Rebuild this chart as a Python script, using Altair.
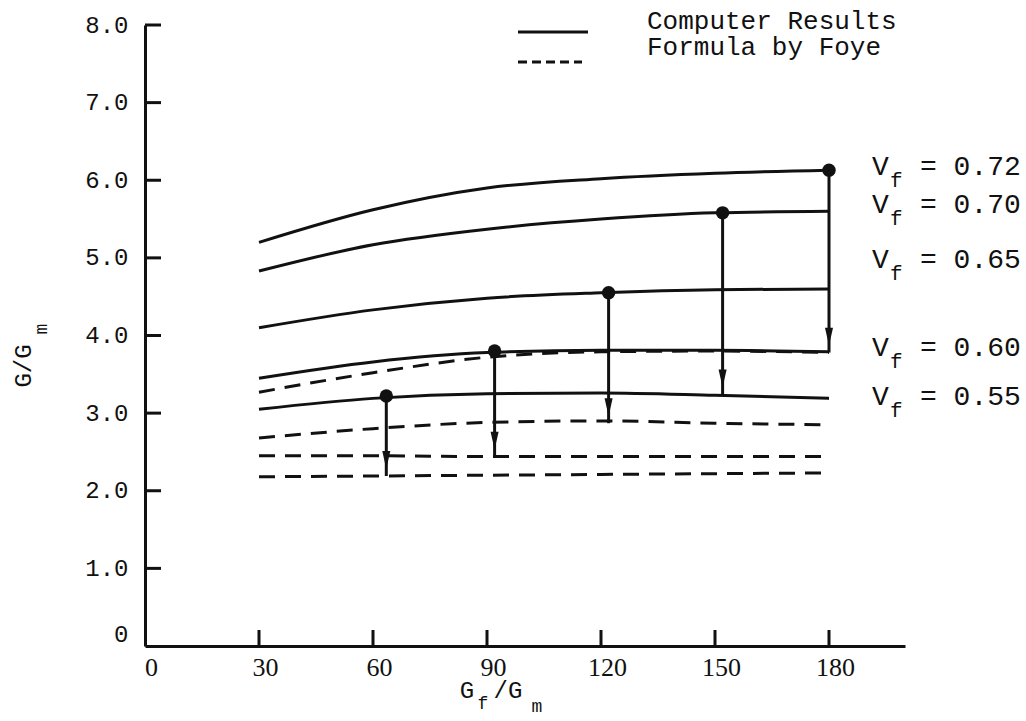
import altair as alt
import pandas as pd

INK = "#111111"

# G_f/G_m sample points for every curve
gf_gm = [30, 60, 90, 120, 150, 180]

# Computer results (solid curves), one list per fibre volume fraction
comp_072 = [5.20, 5.62, 5.90, 6.02, 6.09, 6.13]
comp_070 = [4.83, 5.17, 5.37, 5.50, 5.58, 5.60]
comp_065 = [4.10, 4.33, 4.48, 4.55, 4.59, 4.60]
comp_060 = [3.45, 3.66, 3.78, 3.81, 3.81, 3.79]
comp_055 = [3.05, 3.19, 3.25, 3.26, 3.23, 3.19]

# Formula by Foye (dashed curves)
foye_072 = [3.27, 3.52, 3.72, 3.79, 3.80, 3.78]
foye_065 = [2.68, 2.80, 2.88, 2.90, 2.87, 2.85]
foye_060 = [2.45, 2.45, 2.44, 2.44, 2.44, 2.44]
foye_055 = [2.18, 2.19, 2.20, 2.21, 2.22, 2.23]

# Comparison arrows: from the computed point down to the formula value
arrow_vf = ["0.55", "0.60", "0.65", "0.70", "0.72"]
arrow_x = [63.5, 92, 122, 152, 180]
arrow_top = [3.22, 3.80, 4.55, 5.58, 6.13]
arrow_bottom = [2.19, 2.44, 2.87, 3.24, 3.78]

# Right-hand curve labels
label_vf = ["0.72", "0.70", "0.65", "0.60", "0.55"]
label_y = [6.17, 5.68, 4.97, 3.84, 3.21]

# Axis ticks
x_tick_values = [30, 60, 90, 120, 150, 180]
y_tick_values = [1, 2, 3, 4, 5, 6, 7, 8]
x_label_values = [0, 30, 60, 90, 120, 150, 180]
y_label_values = [0, 1, 2, 3, 4, 5, 6, 7, 8]

W, H = 760, 621
PAD_L, PAD_T = 145, 25

solid_rows = []
for vf, ys in [("0.72", comp_072), ("0.70", comp_070), ("0.65", comp_065),
               ("0.60", comp_060), ("0.55", comp_055)]:
    solid_rows += [{"gf": x, "g": y, "vf": vf} for x, y in zip(gf_gm, ys)]
dashed_rows = []
for vf, ys in [("0.72", foye_072), ("0.65", foye_065),
               ("0.60", foye_060), ("0.55", foye_055)]:
    dashed_rows += [{"gf": x, "g": y, "vf": vf} for x, y in zip(gf_gm, ys)]

solid_df = pd.DataFrame(solid_rows)
dashed_df = pd.DataFrame(dashed_rows)
arrow_df = pd.DataFrame({"vf": arrow_vf, "gf": arrow_x,
                         "top": arrow_top, "bottom": arrow_bottom})
label_df = pd.DataFrame({"vf": label_vf, "ly": label_y,
                         "rest": ["= " + v for v in label_vf]})
xt_df = pd.DataFrame({"gf": x_tick_values})
yt_df = pd.DataFrame({"g": y_tick_values})

x_scale = alt.Scale(domain=[0, 200], nice=False, zero=False)
y_scale = alt.Scale(domain=[0, 8], nice=False, zero=False)

x_axis = alt.Axis(values=x_label_values, title=None, grid=False, ticks=False,
                  tickSize=0, domainColor=INK, domainWidth=3,
                  labelFont="Liberation Serif", labelFontSize=26,
                  labelColor=INK, labelPadding=8, labelOffset=6,
                  labelFlush=False, labelOverlap=False)
y_axis = alt.Axis(values=y_label_values, title=None, grid=False, ticks=False,
                  tickSize=0, domainColor=INK, domainWidth=3,
                  labelFont="Liberation Mono", labelFontSize=24,
                  labelColor=INK, labelPadding=17, labelFlush=False,
                  labelOverlap=False,
                  labelBaseline={"condition": {"test": "datum.value == 0",
                                               "value": "bottom"},
                                 "value": "middle"},
                  labelExpr="datum.value == 0 ? '0' : format(datum.value, '.1f')")

X = alt.X("gf:Q", scale=x_scale, axis=x_axis)
Y = alt.Y("g:Q", scale=y_scale, axis=y_axis)

solid = alt.Chart(solid_df).mark_line(
    interpolate="monotone", strokeWidth=3, color=INK
).encode(x=X, y=Y, detail="vf:N")

dashed = alt.Chart(dashed_df).mark_line(
    interpolate="monotone", strokeWidth=3, color=INK, strokeDash=[16, 10]
).encode(x=X, y=Y, detail="vf:N")

stems = alt.Chart(arrow_df).mark_rule(strokeWidth=3, color=INK).encode(
    x=alt.X("gf:Q", scale=x_scale, axis=x_axis),
    y=alt.Y("top:Q", scale=y_scale, axis=y_axis),
    y2="bottom:Q",
)
dots = alt.Chart(arrow_df).mark_circle(size=180, color=INK, opacity=1).encode(
    x=alt.X("gf:Q", scale=x_scale, axis=x_axis),
    y=alt.Y("top:Q", scale=y_scale, axis=y_axis),
)
heads = alt.Chart(arrow_df).mark_point(
    shape="M-0.45,-1L0.45,-1L0,1Z", size=320, filled=True, color=INK,
    opacity=1, yOffset=-16
).encode(
    x=alt.X("gf:Q", scale=x_scale, axis=x_axis),
    y=alt.Y("bottom:Q", scale=y_scale, axis=y_axis),
)

# inward tick marks on both axes
x_ticks = alt.Chart(xt_df).mark_rule(strokeWidth=3, color=INK).encode(
    x=alt.X("gf:Q", scale=x_scale, axis=x_axis),
    y=alt.value(H), y2=alt.value(H - 16),
)
y_ticks = alt.Chart(yt_df).mark_rule(strokeWidth=3, color=INK).encode(
    y=alt.Y("g:Q", scale=y_scale, axis=y_axis),
    x=alt.value(0), x2=alt.value(16),
)

# curve labels at the right
mono = "Liberation Mono"
lab_v = alt.Chart(label_df).mark_text(
    text="V", font=mono, fontSize=28, color=INK, align="left", baseline="middle"
).encode(y=alt.Y("ly:Q", scale=y_scale, axis=y_axis), x=alt.value(727))
lab_f = alt.Chart(label_df).mark_text(
    text="f", font=mono, fontSize=21, color=INK, align="left",
    baseline="middle", dy=14
).encode(y=alt.Y("ly:Q", scale=y_scale, axis=y_axis), x=alt.value(745))
lab_rest = alt.Chart(label_df).mark_text(
    font=mono, fontSize=28, color=INK, align="left", baseline="middle"
).encode(y=alt.Y("ly:Q", scale=y_scale, axis=y_axis), x=alt.value(775),
         text="rest:N")

# legend
leg_solid = alt.Chart(pd.DataFrame({"k": [0]})).mark_rule(
    strokeWidth=3, color=INK
).encode(x=alt.value(373), x2=alt.value(443), y=alt.value(7))
leg_dash = alt.Chart(pd.DataFrame({"k": [0]})).mark_rule(
    strokeWidth=3, color=INK, strokeDash=[9, 5]
).encode(x=alt.value(373), x2=alt.value(437), y=alt.value(37))
leg_text = alt.Chart(pd.DataFrame({
    "t": ["Computer Results", "Formula by Foye"], "py": [-4, 22]
})).mark_text(font=mono, fontSize=26, color=INK, align="left",
              baseline="middle").encode(
    text="t:N", x=alt.value(502), y=alt.Y("py:Q", scale=None))

# axis titles with subscripts
def txt(s, x, y, size, angle=0):
    return alt.Chart(pd.DataFrame({"s": [s]})).mark_text(
        font=mono, fontSize=size, color=INK, align="center",
        baseline="middle", angle=angle
    ).encode(text="s:N", x=alt.value(x), y=alt.value(y))

x_title = (txt("G", 322, 666, 24) + txt("f", 338, 679, 18)
           + txt("/G", 363, 666, 24) + txt("m", 392, 682, 18))
y_title = txt("G/G", -121, 341, 24, 270) + txt("m", -103, 304, 18, 270)

chart = alt.layer(
    y_ticks, x_ticks, dashed, solid, stems, heads, dots,
    lab_v, lab_f, lab_rest, leg_solid, leg_dash, leg_text, x_title, y_title
).properties(
    width=W, height=H,
    autosize=alt.AutoSizeParams(type="none"),
    padding={"left": PAD_L, "top": PAD_T,
             "right": 1026 - PAD_L - W, "bottom": 721 - PAD_T - H},
    background="white",
).configure_view(stroke=None)

chart.save("out.html", embed_options={"renderer": "svg", "actions": False})
